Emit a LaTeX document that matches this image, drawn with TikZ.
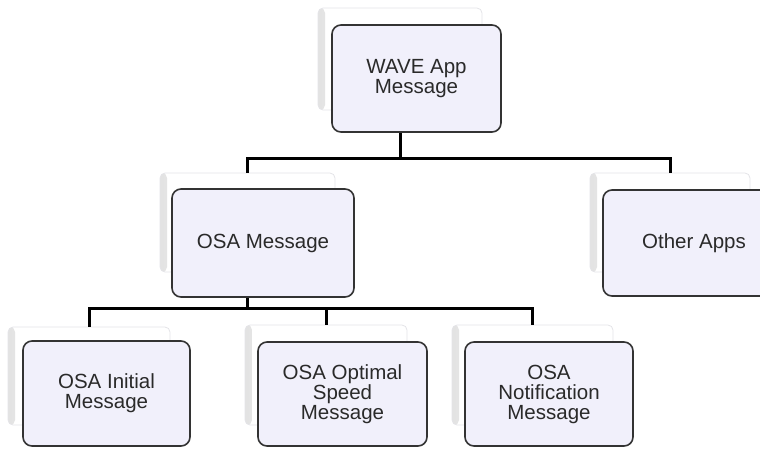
\documentclass[tikz,border=0pt]{standalone}
\usepackage{fontspec}
\setmainfont{Liberation Sans}
\definecolor{boxfill}{HTML}{F1F0FB}
\definecolor{boxline}{HTML}{333333}
\definecolor{backline}{HTML}{E4E4E8}
\definecolor{labeltext}{HTML}{2A2A2A}
\tikzset{
  backbox/.style={draw=backline, fill=white, rounded corners=5pt, line width=0.8pt,
    path picture={\shade[left color=gray!22, right color=white]
      (path picture bounding box.north west) rectangle ([xshift=7pt]path picture bounding box.south west);}},
  frontbox/.style={draw=boxline, fill=boxfill, rounded corners=9pt, line width=1.6pt,
    align=center, text=labeltext, font=\fontsize{20.5}{20}\selectfont},
  link/.style={line width=3pt, black}
}
\begin{document}
\begin{tikzpicture}[x=1pt,y=-1pt]
        \useasboundingbox (0,0) rectangle (760,448);
        \clip (0,0) rectangle (760,448);
        %% Back boxes
        \node[backbox, minimum width=164pt, minimum height=102pt] (wave-b) at (400,59) {};
        \node[backbox, minimum width=175pt, minimum height=99pt] (osa-b) at (247.5,222.5) {};
        \node[backbox, minimum width=160pt, minimum height=99pt] (other-b) at (670,222.5) {};
        \node[backbox, minimum width=162pt, minimum height=98pt] (init-b) at (89,376) {};
        \node[backbox, minimum width=162pt, minimum height=100pt] (speed-b) at (326,375) {};
        \node[backbox, minimum width=161pt, minimum height=100pt] (notif-b) at (532.5,375) {};
        %% Bus lines
        \coordinate (bus1) at (0,158);
        \coordinate (bus2) at (0,308);
        \draw[link] (wave-b.south) -- (wave-b.south |- bus1) -| (osa-b.north);
        \draw[link] (wave-b.south |- bus1) -| (other-b.north);
        \draw[link] (osa-b.south) -- (osa-b.south |- bus2) -| (init-b.north);
        \draw[link] (osa-b.south |- bus2) -| (speed-b.north);
        \draw[link] (osa-b.south |- bus2) -| (notif-b.north);
        %% Front boxes
        \node[frontbox, minimum width=169pt, minimum height=107pt] (wave) at (416.5,78.5) {WAVE App\\Message};
        \node[frontbox, minimum width=182pt, minimum height=108pt] (osa) at (263,243) {OSA Message};
        \node[frontbox, minimum width=182pt, minimum height=106pt] (other) at (694,243) {Other Apps};
        \node[frontbox, minimum width=167pt, minimum height=105pt] (init) at (106.5,393.5) {OSA Initial\\Message};
        \node[frontbox, minimum width=169pt, minimum height=104pt] (speed) at (342.5,394) {OSA Optimal\\Speed\\Message};
        \node[frontbox, minimum width=168pt, minimum height=104pt] (notif) at (549,394) {OSA\\Notification\\Message};
    \end{tikzpicture}
\end{document}
